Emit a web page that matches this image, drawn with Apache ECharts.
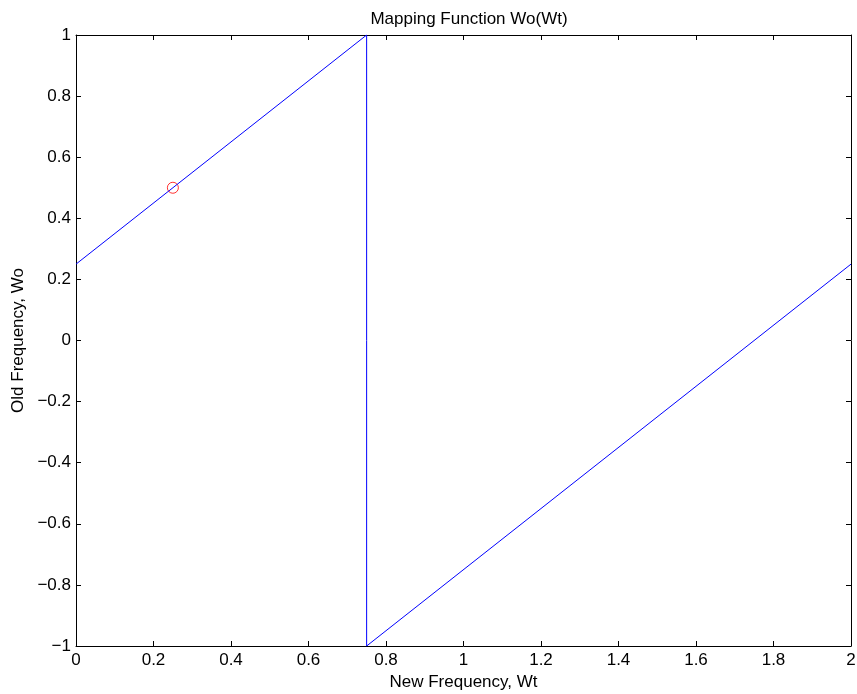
<!DOCTYPE html>
<html><head><meta charset="utf-8">
<script src="https://cdn.jsdelivr.net/npm/echarts@6/dist/echarts.min.js"></script>
<style>html,body{margin:0;padding:0;background:#fff}#c{width:857px;height:694px}</style>
</head><body><div id="c"></div>
<script>
const lineX = [0, 0.75, 0.75, 2];
const lineY = [0.25, 1, -1, 0.25];
const markX = [0.25];
const markY = [0.5];
const xTicks = [0, 0.2, 0.4, 0.6, 0.8, 1, 1.2, 1.4, 1.6, 1.8, 2];
const yTicks = [-1, -0.8, -0.6, -0.4, -0.2, 0, 0.2, 0.4, 0.6, 0.8, 1];
const titleText = 'Mapping Function Wo(Wt)';
const xName = 'New Frequency, Wt';
const yName = 'Old Frequency, Wo';

const font = 'Liberation Sans, Arial, sans-serif';
const fs = 17;
const fmt = v => String(Math.round(v*10)/10).replace('-', '\u2212');
const chart = echarts.init(document.getElementById('c'));
const axisLine = {show: true, onZero: false, lineStyle: {color: '#000', width: 1}};
const axisTick = {show: true, inside: true, length: 5, lineStyle: {color: '#000'}};
chart.setOption({
  animation: false,
  backgroundColor: '#fff',
  title: {text: titleText, left: 464, top: 6, textAlign: 'center',
    textStyle: {fontFamily: font, fontSize: fs, fontWeight: 'normal', color: '#000'}},
  grid: {left: 76, right: 6, top: 35, bottom: 48, containLabel: false, outerBoundsMode: 'none'},
  xAxis: [
    {type: 'value', min: xTicks[0], max: xTicks[xTicks.length-1], interval: 0.2,
     axisLine, axisTick, splitLine: {show: false},
     axisLabel: {formatter: fmt, fontFamily: font, fontSize: fs, color: '#000', margin: 6},
     name: xName, nameLocation: 'middle', nameGap: 27,
     nameTextStyle: {fontFamily: font, fontSize: fs, color: '#000'}},
    {type: 'value', position: 'top', min: 0, max: 2, interval: 0.2,
     axisLine, axisTick, axisLabel: {show: false}, splitLine: {show: false}}
  ],
  yAxis: [
    {type: 'value', min: yTicks[0], max: yTicks[yTicks.length-1], interval: 0.2,
     axisLine, axisTick, splitLine: {show: false},
     axisLabel: {formatter: fmt, fontFamily: font, fontSize: fs, color: '#000', margin: 5},
     name: yName, nameLocation: 'middle', nameGap: 42, nameRotate: 90,
     nameTextStyle: {fontFamily: font, fontSize: fs, color: '#000'}},
    {type: 'value', position: 'right', min: -1, max: 1, interval: 0.2,
     axisLine, axisTick, axisLabel: {show: false}, splitLine: {show: false}}
  ],
  series: [
    {type: 'line', data: lineX.map((x, i) => [x, lineY[i]]), showSymbol: false,
     lineStyle: {color: '#0000ff', width: 1}, itemStyle: {color: '#0000ff'}},
    {type: 'scatter', data: markX.map((x, i) => [x, markY[i]]), symbol: 'circle', symbolSize: 11,
     itemStyle: {color: 'transparent', borderColor: '#ff0000', borderWidth: 1}}
  ]
});
</script></body></html>
